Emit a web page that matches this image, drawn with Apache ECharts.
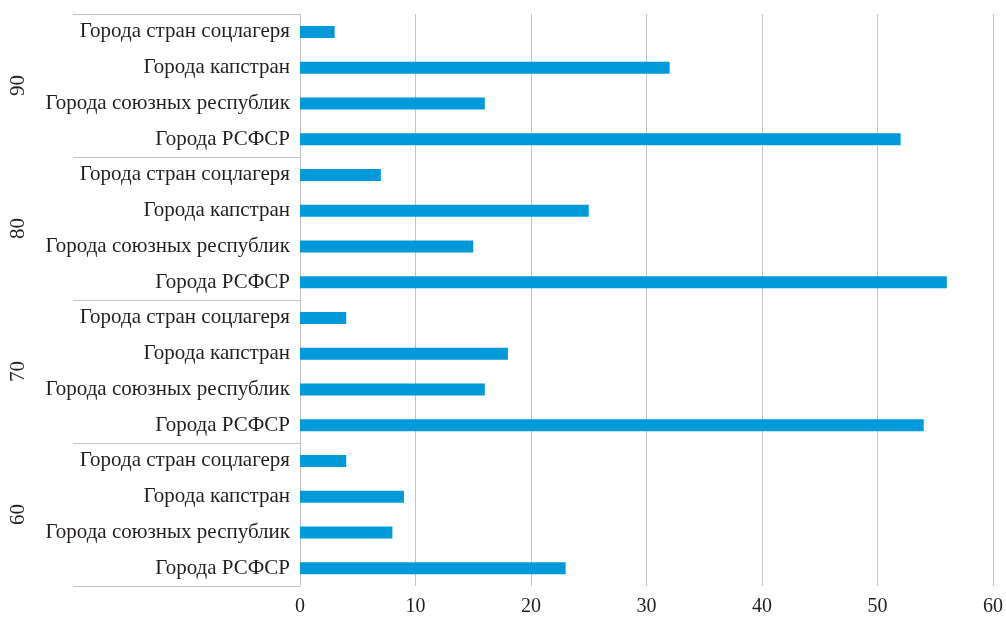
<!DOCTYPE html>
<html>
<head>
<meta charset="utf-8">
<script src="https://cdn.jsdelivr.net/npm/echarts@6/dist/echarts.min.js"></script>
<style>
  html, body { margin: 0; padding: 0; background: #fff; }
  #chart { width: 1006px; height: 619px; }
</style>
</head>
<body>
<div id="chart"></div>
<script>
// Decades (bottom to top) and city groups within each decade (bottom to top)
const decades = ['60', '70', '80', '90'];
const cityTypes = ['Города РСФСР', 'Города союзных республик', 'Города капстран', 'Города стран соцлагеря'];

// Values per decade, in the order of cityTypes
const values60 = [23, 8, 9, 4];
const values70 = [54, 16, 18, 4];
const values80 = [56, 15, 25, 7];
const values90 = [52, 16, 32, 3];

const xTicks = { min: 0, max: 60, interval: 10 };

const byDecade = [values60, values70, values80, values90];
const categories = [];
const seriesData = [];
decades.forEach((d, i) => {
  cityTypes.forEach((t, j) => {
    categories.push(d + '|' + t);
    seriesData.push(byDecade[i][j]);
  });
});

const FONT = '"Liberation Serif", "Times New Roman", serif';
const GREY = '#c4c4c4';
const TEXT = '#231f20';

const chart = echarts.init(document.getElementById('chart'), null, { renderer: 'canvas' });
chart.setOption({
  animation: false,
  backgroundColor: '#ffffff',
  grid: { left: 300, right: 12, top: 14, bottom: 33, containLabel: false },
  xAxis: {
    type: 'value',
    min: xTicks.min,
    max: xTicks.max,
    interval: xTicks.interval,
    axisLine: { show: false },
    axisTick: { show: false },
    axisLabel: { color: TEXT, fontFamily: FONT, fontSize: 20, margin: 11 },
    splitLine: { show: true, lineStyle: { color: GREY, width: 1 } }
  },
  yAxis: [
    {
      type: 'category',
      data: categories,
      axisLine: { show: true, lineStyle: { color: GREY, width: 1 } },
      axisTick: { show: false },
      axisLabel: {
        color: TEXT, fontFamily: FONT, fontSize: 21, margin: 10, interval: 0,
        formatter: v => v.split('|')[1]
      },
      splitLine: { show: false }
    },
    {
      type: 'category',
      data: decades,
      position: 'left',
      axisLine: { show: false },
      axisTick: { show: true, length: 227, interval: 0, lineStyle: { color: GREY, width: 1 } },
      axisLabel: {
        color: TEXT, fontFamily: FONT, fontSize: 21, rotate: 90, margin: 271, interval: 0
      },
      splitLine: { show: false }
    }
  ],
  series: [{
    type: 'bar',
    yAxisIndex: 0,
    data: seriesData,
    barWidth: 12,
    itemStyle: { color: '#0099da' }
  }]
});
</script>
</body>
</html>
